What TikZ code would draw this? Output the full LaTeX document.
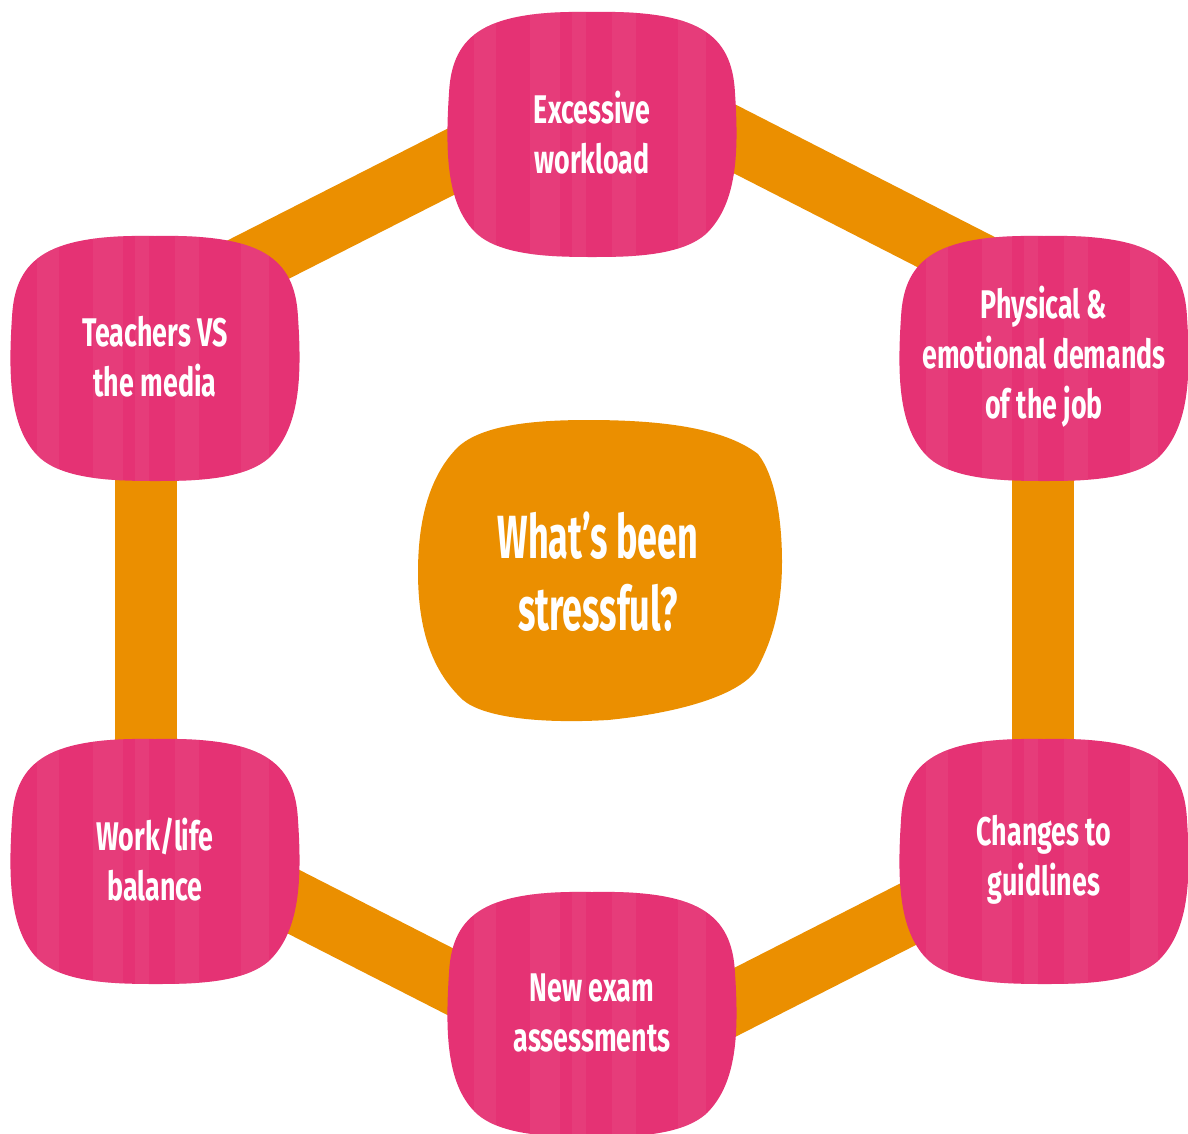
\documentclass[tikz,border=0pt]{standalone}
\usepackage{fontspec}
\usepackage{tikz}
\newfontfamily\tagfont{Fira Sans}[FakeStretch=0.67]
\newfontfamily\bigtagfont{Fira Sans}[FakeStretch=0.59]
\definecolor{cpink}{RGB}{229,50,116}
\definecolor{cpinklight}{RGB}{234,84,138}
\definecolor{corange}{RGB}{235,143,0}
\pgfdeclarelayer{bars}
\pgfdeclarelayer{blobs}
\pgfsetlayers{bars,blobs,main}

% rounded, slightly bulging blob behind a node
\newcommand{\pinkblob}[1]{%
  \begin{scope}[shift={(#1.center)}]
    \fill[cpink] (0,-121)
      .. controls (105,-123) and (140,-100) .. (143,-40)
      .. controls (147,20) and (145,70) .. (115,100)
      .. controls (90,123) and (40,124) .. (0,124)
      .. controls (-45,124) and (-95,122) .. (-118,98)
      .. controls (-145,70) and (-147,20) .. (-143,-40)
      .. controls (-140,-100) and (-105,-123) .. (0,-121) -- cycle;
    \clip (0,-121)
      .. controls (105,-123) and (140,-100) .. (143,-40)
      .. controls (147,20) and (145,70) .. (115,100)
      .. controls (90,123) and (40,124) .. (0,124)
      .. controls (-45,124) and (-95,122) .. (-118,98)
      .. controls (-145,70) and (-147,20) .. (-143,-40)
      .. controls (-140,-100) and (-105,-123) .. (0,-121) -- cycle;
    \foreach \sx/\sw in {-118/22, -62/30, -20/14, 20/24, 86/28}
      \fill[cpinklight, opacity=0.3] (\sx,-130) rectangle ++(\sw,260);
  \end{scope}}
\newcommand{\orangeblob}[1]{%
  \fill[corange, shift={(#1.center)}] (-10,-152)
    .. controls (60,-152) and (125,-145) .. (160,-118)
    .. controls (178,-95) and (184,-50) .. (184,-10)
    .. controls (184,40) and (172,72) .. (160,95)
    .. controls (147,120) and (90,140) .. (10,148)
    .. controls (-60,152) and (-115,145) .. (-135,128)
    .. controls (-165,100) and (-180,60) .. (-180,0)
    .. controls (-180,-60) and (-165,-100) .. (-140,-125)
    .. controls (-115,-148) and (-60,-152) .. (-10,-152) -- cycle;}

\begin{document}
\begin{tikzpicture}[x=1pt, y=-1pt,
    tag/.style={text=white, align=center, font=\tagfont\bfseries\fontsize{40}{50}\selectfont},
    bar/.style={corange, line width=62pt}]
  \useasboundingbox (0,0) rectangle (1188,1133);

  \node [tag] (work) at (592,133) {Excessive\\workload};
  \node [tag] (demands) at (1044,357) {Physical \&\\emotional demands\\of the job};
  \node [tag] (guide) at (1044,860) {Changes to\\guidlines};
  \node [tag] (exam) at (592,1013) {New exam\\assessments};
  \node [tag] (balance) at (155,860) {Work/life\\balance};
  \node [tag] (media) at (155,357) {Teachers VS\\the media};
  \node [tag, font=\bigtagfont\bfseries\fontsize{61}{72}\selectfont] (stress) at (598,572)
    {What’s been\\stressful?};

  \begin{pgfonlayer}{blobs}
    \pinkblob{work}
    \pinkblob{demands}
    \pinkblob{guide}
    \pinkblob{exam}
    \pinkblob{balance}
    \pinkblob{media}
    \orangeblob{stress}
  \end{pgfonlayer}

  % ring of bars behind the blobs
  \begin{pgfonlayer}{bars}
    \draw [bar] ([yshift=45pt]media.center) -- ([yshift=43pt]work.center);
    \draw [bar] ([yshift=67pt]work.center) -- ([yshift=60pt]demands.center);
    \draw [bar] ([xshift=-1pt]demands.center) -- ([xshift=-1pt]guide.center);
    \draw [bar] ([yshift=15pt]guide.center) -- ([yshift=-62pt]exam.center);
    \draw [bar] ([yshift=-41pt]exam.center) -- ([yshift=29pt]balance.center);
    \draw [bar] ([xshift=-9pt]balance.center) -- ([xshift=-9pt]media.center);
  \end{pgfonlayer}
\end{tikzpicture}
\end{document}
